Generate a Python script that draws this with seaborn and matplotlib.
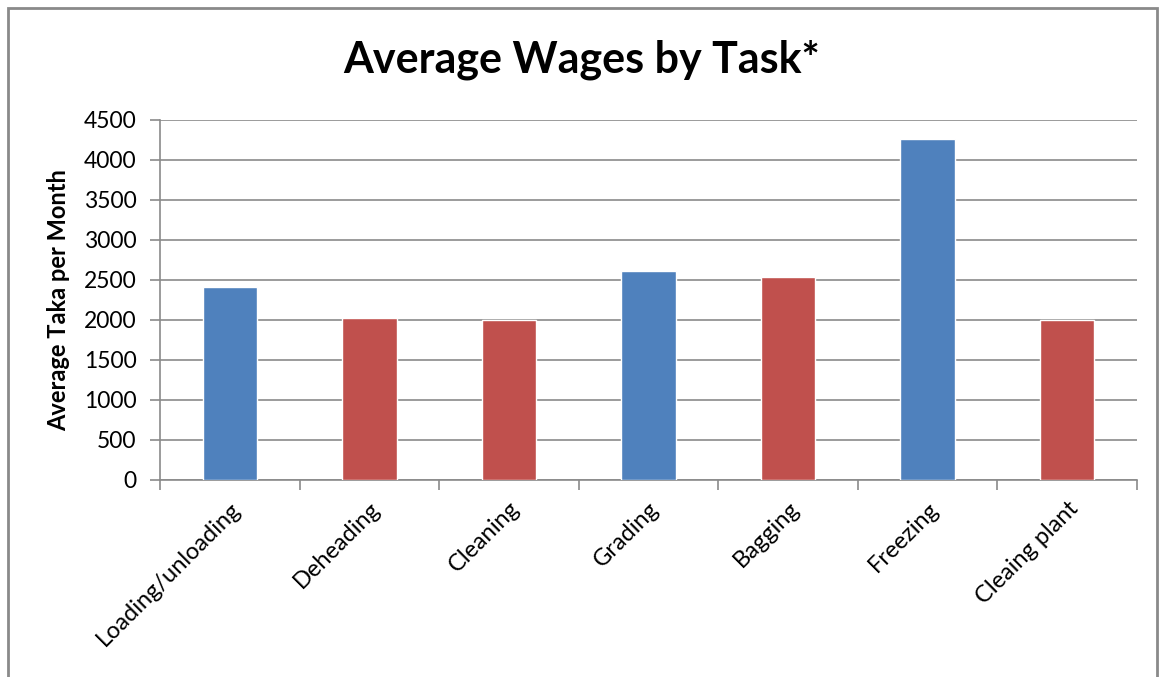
import matplotlib
matplotlib.use("Agg")
import matplotlib.pyplot as plt
import matplotlib.transforms as mtransforms
from matplotlib.patches import Rectangle
import seaborn as sns
import pandas as pd
import numpy as np

categories = ["Loading/unloading", "Deheading", "Cleaning", "Grading", "Bagging", "Freezing", "Cleaing plant"]
wages = [2410, 2020, 2000, 2615, 2535, 4260, 2000]
bar_colors = ["#4F81BD", "#C0504D", "#C0504D", "#4F81BD", "#C0504D", "#4F81BD", "#C0504D"]
y_ticks = [0, 500, 1000, 1500, 2000, 2500, 3000, 3500, 4000, 4500]
y_tick_labels = ["0", "500", "1000", "1500", "2000", "2500", "3000", "3500", "4000", "4500"]

sns.set_style("white")
plt.rcParams['font.family'] = ['Lato', 'DejaVu Sans']
plt.rcParams['text.color'] = 'black'
plt.rcParams['xtick.color'] = 'black'
plt.rcParams['ytick.color'] = 'black'
plt.rcParams['axes.labelcolor'] = 'black'

df = pd.DataFrame({"task": categories, "wage": wages})

fig = plt.figure(figsize=(11.62, 6.77), dpi=100)
W, H = 1162, 677
ax = fig.add_axes([160 / W, 1 - 480 / H, (1137 - 160) / W, (480 - 120) / H])

sns.barplot(data=df, x="task", y="wage", hue="task", palette=bar_colors,
            order=categories, hue_order=categories, legend=False,
            width=0.39, ax=ax, zorder=3, saturation=1)

ax.set_xlim(-0.5, len(categories) - 0.5)
ax.set_ylim(0, 4500)
ax.set_yticks(y_ticks)
ax.set_yticklabels(y_tick_labels, fontsize=16.5)
ax.yaxis.grid(True, color="#8a8a8a", linewidth=1.2, zorder=0)
ax.set_axisbelow(True)

for s in ["top", "right"]:
    ax.spines[s].set_visible(False)
for s in ["left", "bottom"]:
    ax.spines[s].set_color("#8a8a8a")
    ax.spines[s].set_linewidth(1.2)

ax.tick_params(axis="y", which="major", length=7, width=1.2, color="#8a8a8a",
               labelcolor="black", direction="out", pad=10, left=True)
ax.set_xticks(range(len(categories)))
ax.set_xticklabels([])
ax.tick_params(axis="x", which="major", length=0)
ax.set_xticks(np.arange(-0.5, len(categories), 1.0), minor=True)
ax.tick_params(axis="x", which="minor", length=7, width=1.2, color="#8a8a8a", direction="out", bottom=True)

offset = mtransforms.ScaledTranslation(0 / 100, -18 / 100, fig.dpi_scale_trans)
for i, c in enumerate(categories):
    ax.text(i, 0, c, rotation=45, ha="right", va="top", rotation_mode="anchor",
            fontsize=17, color="black", transform=ax.get_xaxis_transform() + offset)

ax.set_xlabel("")
ax.set_ylabel("Average Taka per Month", fontsize=17, fontweight="bold")
ax.yaxis.set_label_coords((70 - 160) / 977, 0.5)

fig.text(0.5 + 1 / W, 1 - 60 / H, "Average Wages by Task*", ha="center", va="center",
         fontsize=31, fontweight="bold", color="black")

fig.patches.append(Rectangle((8 / W, -0.1), (1157 - 8) / W, 1.1 - 8 / H,
                             transform=fig.transFigure, fill=False,
                             edgecolor="#8a8a8a", linewidth=2, zorder=10))

fig.savefig("out.png", dpi=100)
